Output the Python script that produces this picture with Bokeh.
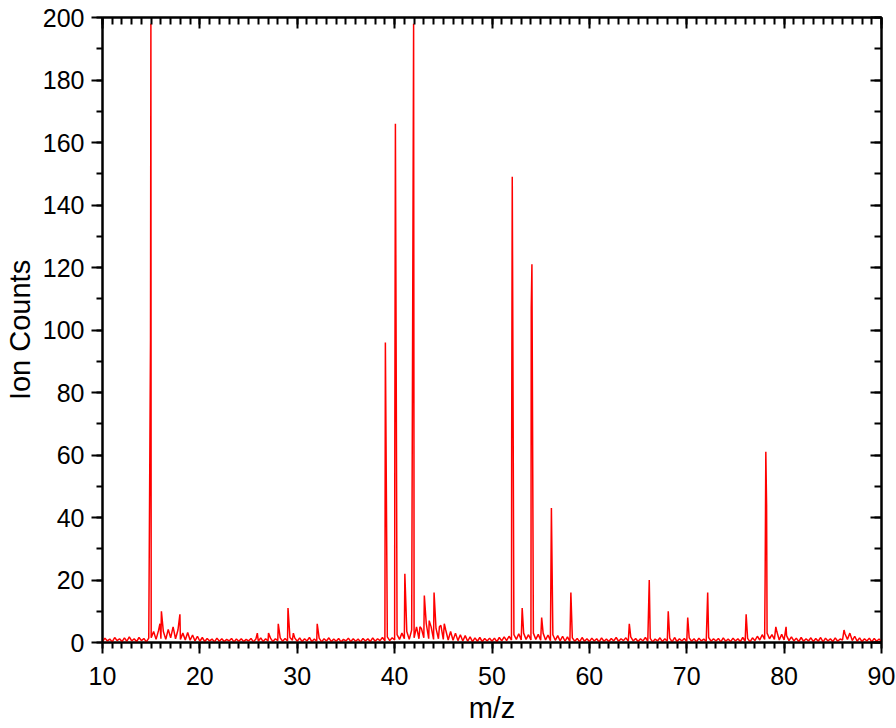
from bokeh.plotting import figure
from bokeh.models import Range1d, LinearAxis, FixedTicker, ColumnDataSource
from bokeh.embed import file_html
from bokeh.resources import INLINE

# ---------------- data ----------------
# baseline noise, one value every 0.25 m/z starting at 10.0
noise_start = 10.0
noise_step = 0.25
noise_10s = [0.3, 1.4, 0.5, 1.1, 0.2, 1.6, 0.6, 1.2, 0.3, 1.5, 0.4, 1.8, 0.5, 1.2, 0.3, 1.6, 0.6, 1.3, 0.2, 1.4,
             1.5, 3.5, 1, 3.8, 1.2, 3.5, 1, 4.2, 1.5, 5, 1.2, 4, 1, 3, 0.8, 3.2, 0.7, 2.4, 0.5, 2]
noise_20s = [0.4, 1.6, 0.3, 1.3, 0.5, 1.1, 0.2, 1.4, 0.4, 1.2, 0.3, 1, 0.5, 1.3, 0.2, 1.1, 0.4, 1.2, 0.3, 1,
             0.5, 1.3, 0.2, 1.1, 0.4, 1.5, 0.3, 1.2, 0.5, 1.4, 0.3, 1.2, 0.6, 1.5, 0.4, 1.3, 0.5, 1.6, 0.7, 1.4]
noise_30s = [0.4, 1.5, 0.3, 1.2, 0.5, 1.6, 0.3, 1.1, 0.4, 1.4, 0.2, 1.2, 0.5, 1.5, 0.3, 1.1, 0.4, 1.3, 0.2, 1,
             0.5, 1.4, 0.3, 1.2, 0.4, 1.1, 0.2, 1.3, 0.5, 1.2, 0.3, 1.5, 0.4, 1.2, 0.6, 1.6, 0.5, 1.8, 0.6, 1.5]
noise_40s = [0.8, 2.5, 1, 3, 1.2, 3.5, 1, 4, 1.5, 5, 1.2, 4.5, 1.5, 6, 1.2, 5, 1, 4.5, 1.2, 5.5,
             1, 4, 0.8, 3.5, 0.7, 3, 0.6, 2.5, 0.5, 2.2, 0.4, 1.8, 0.3, 1.5, 0.4, 1.6, 0.3, 1.3, 0.5, 1.4]
noise_50s = [0.4, 1.4, 0.3, 1.6, 0.5, 1.8, 0.6, 2, 0.8, 2.5, 1, 2.8, 0.8, 3, 1, 2.5, 0.8, 3, 1, 2.6,
             0.7, 3, 0.8, 2.4, 0.6, 2.5, 0.7, 2.2, 0.5, 2, 0.4, 1.8, 0.3, 1.5, 0.4, 1.3, 0.2, 1.6, 0.4, 1.2]
noise_60s = [0.3, 1.4, 0.5, 1.2, 0.2, 1.5, 0.4, 1.1, 0.3, 1.3, 0.5, 1.6, 0.4, 1.2, 0.6, 1.5, 0.4, 1.8, 0.5, 1.3,
             0.3, 1.2, 0.5, 1.6, 0.4, 1.3, 0.2, 1.1, 0.5, 1.5, 0.3, 1.2, 0.4, 1.4, 0.2, 1.6, 0.3, 1.2, 0.5, 1.3]
noise_70s = [0.3, 1.5, 0.4, 1.2, 0.2, 1.4, 0.5, 1.1, 0.3, 1.6, 0.4, 1.2, 0.5, 1.3, 0.2, 1.5, 0.4, 1.1, 0.3, 1.4,
             0.5, 1.2, 0.3, 1.6, 0.4, 1.3, 0.2, 1.5, 0.6, 2, 0.8, 2.5, 1, 3, 1.2, 2.5, 1, 3.5, 0.8, 2.6]
noise_80s = [0.8, 2.2, 0.6, 1.8, 0.5, 1.4, 0.3, 1.6, 0.4, 1.2, 0.5, 1.5, 0.3, 1.3, 0.4, 1.6, 0.2, 1.4, 0.5, 1.2,
             0.3, 1.5, 0.4, 1.1, 0.8, 2.8, 1, 3, 0.6, 2, 0.4, 1.5, 0.3, 1.2, 0.5, 1.4, 0.2, 1.3, 0.4, 1.1, 0.3]

# peaks (m/z, ion counts)
peak_mz = [14.93, 14.97, 15.9, 16.05, 17.95, 25.9, 27.05, 28.05, 29.05, 29.6, 32.05,
           39.05, 40.02, 40.08, 41.05, 41.95, 42.6, 43.05, 43.55, 44.05, 44.6, 45.1,
           52.02, 52.08, 53.1, 54.03, 54.1, 55.1, 56.1, 58.1,
           64.1, 66.15, 68.1, 70.1, 72.15, 76.1, 78.05, 78.12, 78.2, 79.15, 80.2, 86.15]
peak_counts = [97, 198, 6, 10, 9, 3, 3, 6, 11, 3, 6,
               96, 66, 166, 22, 198, 5, 15, 7, 16, 5, 6,
               64, 149, 11, 107, 121, 8, 43, 16,
               6, 20, 10, 8, 16, 9, 21, 61, 44, 5, 5, 4]

x_ticks = [10, 20, 30, 40, 50, 60, 70, 80, 90]
x_minor = list(range(10, 91))
y_ticks = [0, 20, 40, 60, 80, 100, 120, 140, 160, 180, 200]
y_minor = list(range(0, 201, 10))

# ------------- build spectrum table -------------
noise = noise_10s + noise_20s + noise_30s + noise_40s + noise_50s + noise_60s + noise_70s + noise_80s
points = {}
for i, v in enumerate(noise):
    points[round(noise_start + noise_step * i, 4)] = v
for m, c in zip(peak_mz, peak_counts):
    points[m] = max(points.get(m, 0), c)
xs = sorted(points)
src = ColumnDataSource(dict(mz=xs, counts=[points[k] for k in xs]))

# ------------- figure -------------
FONT = "Liberation Sans"
p = figure(width=896, height=728, x_range=Range1d(10, 90), y_range=Range1d(0, 200),
           output_backend="svg", toolbar_location=None,
           min_border_left=102, min_border_right=15, min_border_top=17, min_border_bottom=86,
           x_axis_label="m/z", y_axis_label="Ion Counts")
p.grid.visible = False
p.background_fill_color = "white"
p.border_fill_color = "white"
p.outline_line_color = "black"
p.outline_line_width = 2

p.line("mz", "counts", source=src, line_color="#ff0000", line_width=1.5)


def style(ax, ticker, labels=True, inward=False):
    ax.ticker = ticker
    ax.axis_line_color = "black"
    ax.axis_line_width = 2
    ax.major_tick_line_color = "black"
    ax.minor_tick_line_color = "black"
    ax.major_tick_line_width = 2
    ax.minor_tick_line_width = 2
    if inward:
        ax.major_tick_in, ax.major_tick_out = 11, 0
        ax.minor_tick_in, ax.minor_tick_out = 7, 0
    else:
        ax.major_tick_in, ax.major_tick_out = 0, 11
        ax.minor_tick_in, ax.minor_tick_out = 0, 6
    if labels:
        ax.major_label_text_font = FONT
        ax.major_label_text_font_size = "25px"
        ax.major_label_text_color = "black"
        ax.axis_label_text_font = FONT
        ax.axis_label_text_font_size = "29px"
        ax.axis_label_text_font_style = "normal"
        ax.axis_label_text_color = "black"
    else:
        ax.major_label_text_font_size = "0px"
        ax.major_label_standoff = 0


style(p.xaxis[0], FixedTicker(ticks=x_ticks, minor_ticks=x_minor))
style(p.yaxis[0], FixedTicker(ticks=y_ticks, minor_ticks=y_minor))
p.xaxis[0].major_label_standoff = 13
p.xaxis[0].axis_label_standoff = 4
p.yaxis[0].major_label_standoff = 7
p.yaxis[0].axis_label_standoff = 4

top = LinearAxis()
style(top, FixedTicker(ticks=x_ticks, minor_ticks=x_minor), labels=False, inward=True)
p.add_layout(top, "above")
right = LinearAxis()
style(right, FixedTicker(ticks=y_ticks, minor_ticks=y_minor), labels=False, inward=True)
p.add_layout(right, "right")

open("out.html", "w").write(file_html(p, INLINE))
